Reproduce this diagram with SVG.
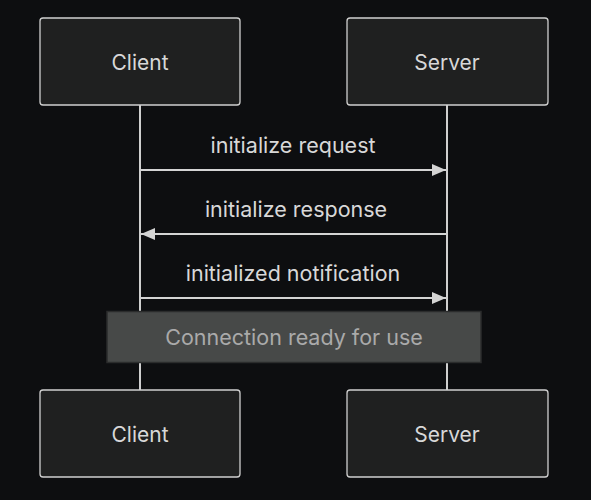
<svg xmlns="http://www.w3.org/2000/svg" width="591" height="500" viewBox="0 0 591 500">
  <defs>
    <marker id="arrow" viewBox="0 0 14 12" refX="14" refY="6" markerWidth="14" markerHeight="12" markerUnits="userSpaceOnUse" orient="auto-start-reverse">
      <path d="M0,0 L14,6 L0,12 Z" fill="#d4d4d4"/>
    </marker>
    <style>
      .actor rect { fill: #1f2020; stroke: #cfcfcf; stroke-width: 1.3; }
      .actor text { font-family: Inter, "Noto Sans", sans-serif; font-size: 21px; fill: #d8d8d8; text-anchor: middle; dominant-baseline: central; }
      .life { stroke: #cfcfcf; stroke-width: 2; }
      .msg { stroke: #d4d4d4; stroke-width: 2; fill: none; }
      .label { font-family: Inter, "Noto Sans", sans-serif; font-size: 21.5px; fill: #d8d8d8; text-anchor: middle; }
      .note rect { fill: #474948; stroke: #2b2c2c; stroke-width: 1.5; }
      .note text { font-family: Inter, "Noto Sans", sans-serif; font-size: 21.5px; fill: #aaaaaa; text-anchor: middle; dominant-baseline: central; }
    </style>
  </defs>
  <rect width="591" height="500" fill="#0d0e10"/>

  <g id="connectors">
    <line class="life" x1="140" y1="105" x2="140" y2="390"/>
    <line class="life" x1="447" y1="105" x2="447" y2="390"/>
    <line class="msg" x1="141" y1="170" x2="446" y2="170" marker-end="url(#arrow)"/>
    <line class="msg" x1="446" y1="234" x2="141" y2="234" marker-end="url(#arrow)"/>
    <line class="msg" x1="141" y1="298" x2="446" y2="298" marker-end="url(#arrow)"/>
    <text class="label" x="293" y="153">initialize request</text>
    <text class="label" x="296" y="217">initialize response</text>
    <text class="label" x="293" y="281">initialized notification</text>
  </g>

  <g id="note" class="note">
    <rect x="107" y="311.5" width="374" height="51"/>
    <text x="294" y="337">Connection ready for use</text>
  </g>

  <g id="client-top" class="actor">
    <rect x="40" y="18" width="200" height="87" rx="3"/>
    <text x="140" y="62">Client</text>
  </g>
  <g id="server-top" class="actor">
    <rect x="347" y="18" width="201" height="87" rx="3"/>
    <text x="447" y="62">Server</text>
  </g>
  <g id="client-bottom" class="actor">
    <rect x="40" y="390" width="200" height="87" rx="3"/>
    <text x="140" y="434">Client</text>
  </g>
  <g id="server-bottom" class="actor">
    <rect x="347" y="390" width="201" height="87" rx="3"/>
    <text x="447" y="434">Server</text>
  </g>
</svg>
